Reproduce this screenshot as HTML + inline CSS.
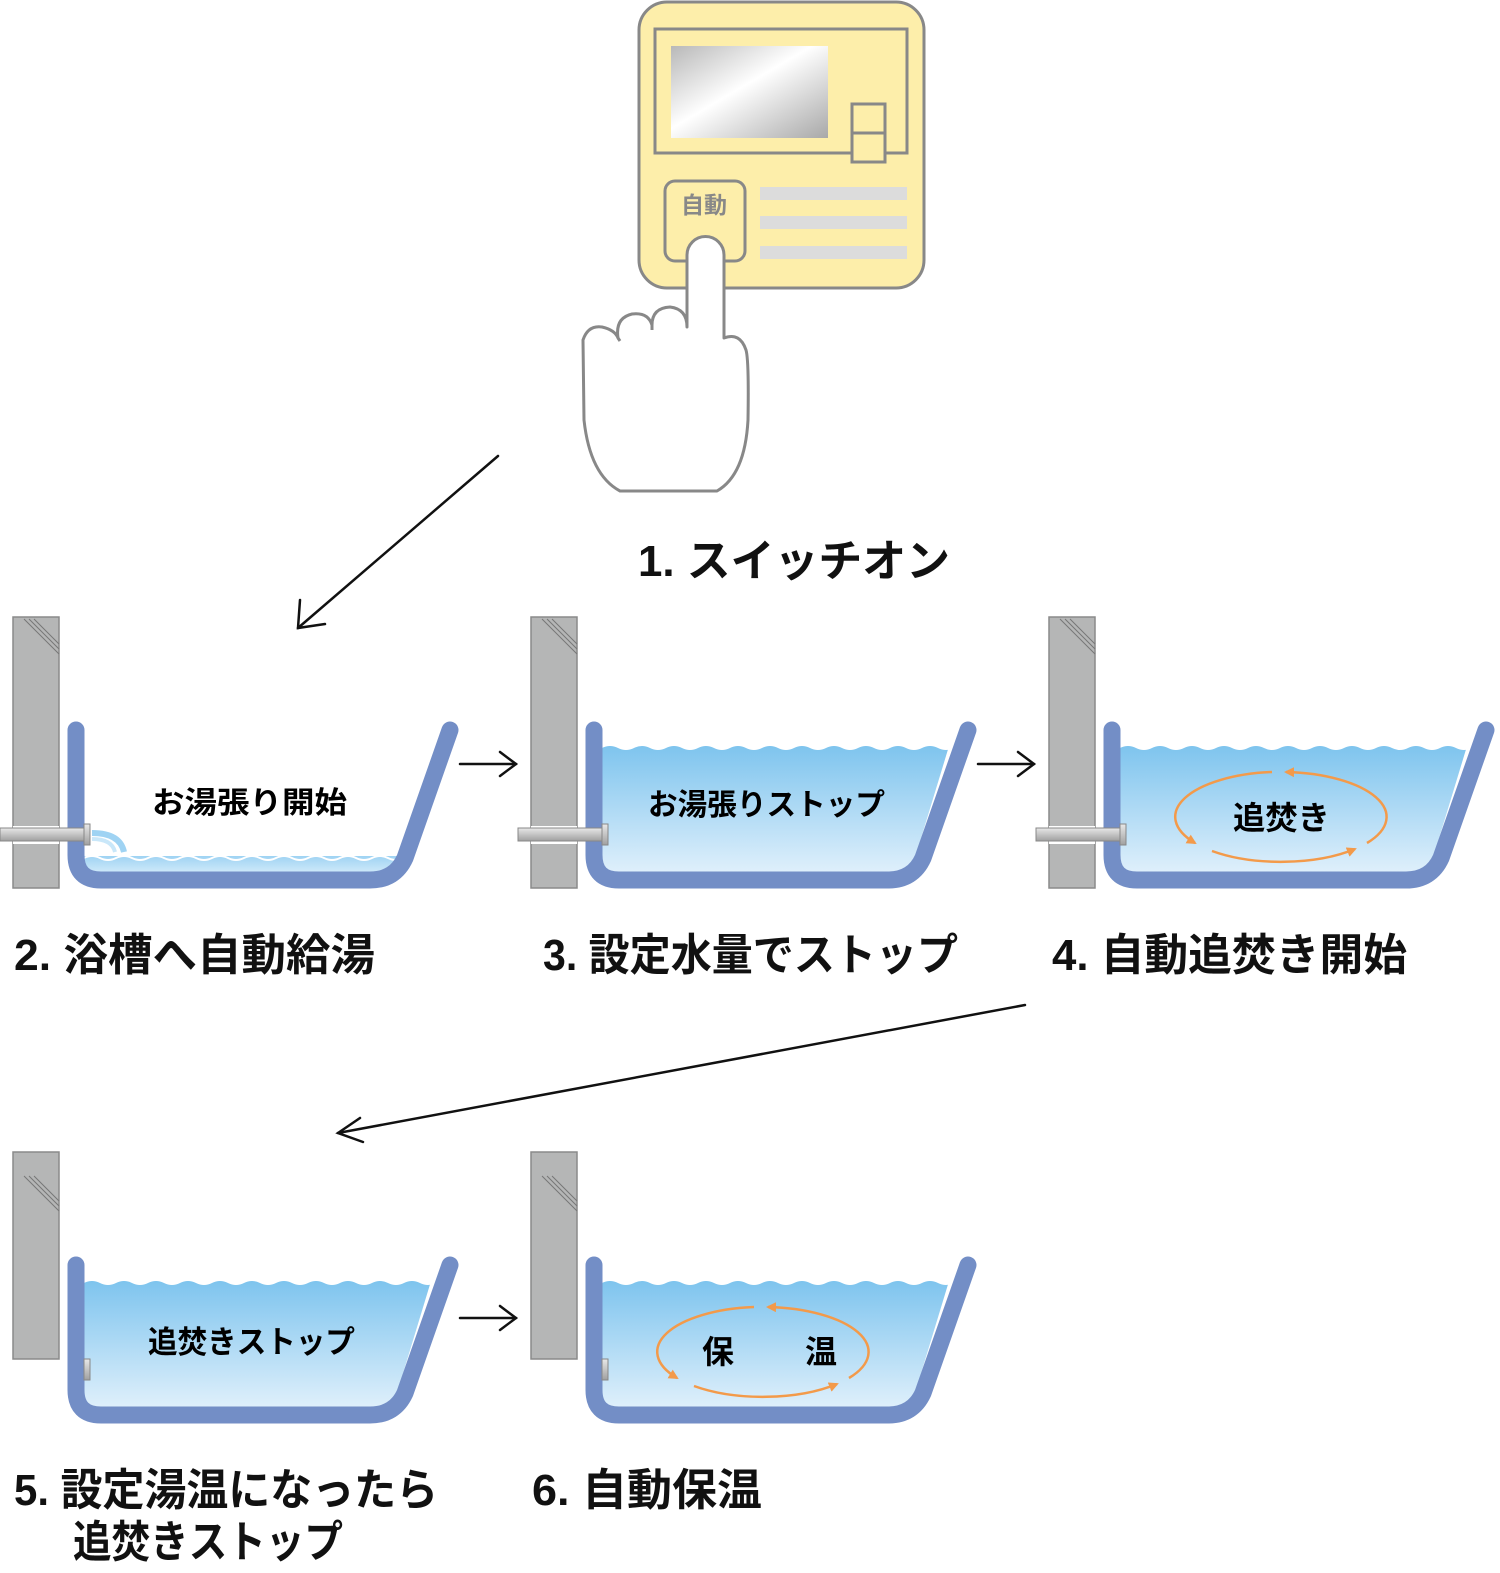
<!DOCTYPE html>
<html><head><meta charset="utf-8"><style>
html,body{margin:0;padding:0;background:#fff}
svg{display:block}
text{font-family:"Liberation Sans","Noto Sans CJK JP",sans-serif}
</style></head><body>
<svg width="1500" height="1573" viewBox="0 0 1500 1573" xmlns="http://www.w3.org/2000/svg">
<defs>
<linearGradient id="wg" x1="0" y1="0" x2="0" y2="1">
<stop offset="0" stop-color="#7ec4ee"/><stop offset="1" stop-color="#f4f9fe"/></linearGradient>
<linearGradient id="wg2" x1="0" y1="0" x2="0" y2="1">
<stop offset="0" stop-color="#9fd3f3"/><stop offset="1" stop-color="#d9eefb"/></linearGradient>
<linearGradient id="scr" x1="0" y1="0" x2="1" y2="1">
<stop offset="0" stop-color="#b8b8b8"/><stop offset="0.45" stop-color="#ffffff"/><stop offset="1" stop-color="#a8a8a8"/></linearGradient>
<linearGradient id="pipe" x1="0" y1="0" x2="0" y2="1">
<stop offset="0" stop-color="#e8e8e8"/><stop offset="1" stop-color="#a0a0a0"/></linearGradient>
<marker id="oa" viewBox="0 0 10 10" refX="8" refY="5" markerWidth="4" markerHeight="4" orient="auto" markerUnits="strokeWidth">
<path d="M0,0 L10,5 L0,10 z" fill="#f39a4a"/></marker>
<clipPath id="tubclip"><path d="M84,700 L445,700 L397,858 Q390,872 370,872 L100,872 Q84,872 84,856 Z"/></clipPath>
<g id="wall">
<rect x="13" y="617" width="46" height="271" fill="#b5b6b6" stroke="#8a8a8a" stroke-width="1.5"/>
<path d="M24,619 L59,654 M29,619 L59,649 M34,619 L59,644" stroke="#777" stroke-width="1" fill="none"/>
</g>
<g id="wall2">
<rect x="13" y="1152" width="46" height="207" fill="#b5b6b6" stroke="#8a8a8a" stroke-width="1.5"/>
<path d="M24,1176 L59,1211 M29,1176 L59,1206 M34,1176 L59,1201" stroke="#777" stroke-width="1" fill="none"/>
</g>
<g id="pipeg">
<rect x="13" y="826" width="46" height="18" fill="#fff"/>
<rect x="0" y="828" width="86" height="13" fill="url(#pipe)" stroke="#888" stroke-width="1"/>
<rect x="84" y="824" width="6" height="21" fill="url(#pipe)" stroke="#888" stroke-width="1"/>
</g>
<path id="wave" d="M84,748 q8,-4 16,0 t16,0 t16,0 t16,0 t16,0 t16,0 t16,0 t16,0 t16,0 t16,0 t16,0 t16,0 t16,0 t16,0 t16,0 t16,0 t16,0 t16,0 t16,0 t16,0 t16,0 t16,0 t16,0 L460,748 L460,900 L84,900 Z"/>
<path id="tub" d="M76,730 L76,855 Q76,880 101,880 L370,880 Q395,880 405,858 L450,730" fill="none" stroke="#738ec6" stroke-width="17" stroke-linecap="round" stroke-linejoin="round"/>
<g id="loop">
<path d="M1272,772 A106,45 0 0 0 1195,843" fill="none" stroke="#f39a4a" stroke-width="2.5" marker-end="url(#oa)"/>
<path d="M1212,851 A106,45 0 0 0 1355,849" fill="none" stroke="#f39a4a" stroke-width="2.5" marker-end="url(#oa)"/>
<path d="M1367,843 A106,45 0 0 0 1286,772" fill="none" stroke="#f39a4a" stroke-width="2.5" marker-end="url(#oa)"/>
</g>
</defs>

<!-- remote -->
<rect x="639" y="2" width="285" height="286" rx="28" fill="#fdeeaa" stroke="#888" stroke-width="3"/>
<rect x="655" y="29" width="252" height="124" fill="none" stroke="#888" stroke-width="3"/>
<rect x="671" y="46" width="157" height="92" fill="url(#scr)"/>
<rect x="852" y="104" width="33" height="58" fill="#fdeeaa" stroke="#888" stroke-width="3"/>
<line x1="852" y1="133" x2="885" y2="133" stroke="#888" stroke-width="3"/>
<rect x="760" y="187" width="147" height="13" fill="#dcdcdc"/>
<rect x="760" y="216" width="147" height="13" fill="#dcdcdc"/>
<rect x="760" y="246" width="147" height="13" fill="#dcdcdc"/>
<rect x="665" y="181" width="80" height="80" rx="10" fill="#fdeeaa" stroke="#888" stroke-width="3"/>
<text x="704" y="213" font-size="23" fill="#888" text-anchor="middle" font-weight="bold">自動</text>
<!-- hand -->
<path d="M687,327 L687,255 A18.5,18.5 0 0 1 724,255 L724,338 Q740,332 746,350 Q749,360 748,420 Q745,475 717,491 L620,491 Q590,475 584,420 L583,340 Q588,325 602,327 Q615,330 618,338 Q615,318 632,314 Q648,312 652,325 Q652,308 670,307 Q687,309 687,327 Z" fill="#fff" stroke="#888" stroke-width="3" stroke-linejoin="round"/>
<path d="M618,338 L620,341 M652,325 L652,330" stroke="#888" stroke-width="3"/>

<!-- main arrows -->
<g stroke="#111" stroke-width="2.5" fill="none" stroke-linecap="round">
<line x1="498" y1="456" x2="298" y2="628"/><path d="M300,600 L298,628 L325,624"/>
<line x1="1025" y1="1005" x2="338" y2="1133"/><path d="M360,1118 L338,1133 L363,1142"/>
<line x1="460" y1="764" x2="516" y2="764"/><path d="M500,752 L516,764 L500,776"/>
<line x1="978" y1="764" x2="1034" y2="764"/><path d="M1018,752 L1034,764 L1018,776"/>
<line x1="460" y1="1318" x2="516" y2="1318"/><path d="M500,1306 L516,1318 L500,1330"/>
</g>

<!-- tub 1 -->
<use href="#wall"/>
<g clip-path="url(#tubclip)"><rect x="84" y="856" width="380" height="20" fill="url(#wg2)"/>
<path d="M84,858 q8,-4 16,0 t16,0 t16,0 t16,0 t16,0 t16,0 t16,0 t16,0 t16,0 t16,0 t16,0 t16,0 t16,0 t16,0 t16,0 t16,0 t16,0 t16,0 t16,0 t16,0 t16,0 t16,0 L460,858" fill="none" stroke="#fff" stroke-width="2"/></g>
<path d="M92,833 Q120,833 124,852" fill="none" stroke="#9fd3f3" stroke-width="6"/>
<path d="M92,839 Q112,839 115,852" fill="none" stroke="#c9e7f9" stroke-width="4"/>
<use href="#tub"/>
<use href="#pipeg"/>
<text x="152" y="813" font-size="30" font-weight="bold" textLength="195" lengthAdjust="spacingAndGlyphs">お湯張り開始</text>

<!-- tub 2 -->
<g transform="translate(518,0)">
<use href="#wall"/>
<g clip-path="url(#tubclip)"><use href="#wave" fill="url(#wg)"/></g>
<use href="#tub"/><use href="#pipeg"/>
</g>
<text x="648" y="815" font-size="30" font-weight="bold" textLength="237" lengthAdjust="spacingAndGlyphs">お湯張りストップ</text>

<!-- tub 3 -->
<g transform="translate(1036,0)">
<use href="#wall"/>
<g clip-path="url(#tubclip)"><use href="#wave" fill="url(#wg)"/></g>
<use href="#tub"/><use href="#pipeg"/>
</g>
<use href="#loop"/>
<text x="1233" y="829" font-size="32" font-weight="bold" textLength="97" lengthAdjust="spacingAndGlyphs">追焚き</text>

<!-- tub 5 -->
<g transform="translate(0,535)">
<g clip-path="url(#tubclip)"><use href="#wave" fill="url(#wg)"/></g>
<use href="#tub"/>
<rect x="84" y="824" width="6" height="21" fill="url(#pipe)" stroke="#888" stroke-width="1"/>
</g>
<text x="148" y="1353" font-size="31" font-weight="bold" textLength="207" lengthAdjust="spacingAndGlyphs">追焚きストップ</text>
<use href="#wall2"/>

<!-- tub 6 -->
<g transform="translate(518,535)">
<g clip-path="url(#tubclip)"><use href="#wave" fill="url(#wg)"/></g>
<use href="#tub"/>
<rect x="84" y="824" width="6" height="21" fill="url(#pipe)" stroke="#888" stroke-width="1"/>
</g>
<use href="#wall2" transform="translate(518,0)"/>
<use href="#loop" transform="translate(-518,535)"/>
<text x="718" y="1363" font-size="32" text-anchor="middle" font-weight="bold">保</text>
<text x="821" y="1363" font-size="32" text-anchor="middle" font-weight="bold">温</text>

<!-- labels -->
<g font-size="44" font-weight="bold" fill="#111">
<text x="638" y="576" textLength="312" lengthAdjust="spacingAndGlyphs">1. スイッチオン</text>
<text x="14" y="970" textLength="361" lengthAdjust="spacingAndGlyphs">2. 浴槽へ自動給湯</text>
<text x="543" y="970" textLength="415" lengthAdjust="spacingAndGlyphs">3. 設定水量でストップ</text>
<text x="1052" y="970" textLength="355" lengthAdjust="spacingAndGlyphs">4. 自動追焚き開始</text>
<text x="14" y="1505" textLength="424" lengthAdjust="spacingAndGlyphs">5. 設定湯温になったら</text>
<text x="73" y="1557" textLength="270" lengthAdjust="spacingAndGlyphs">追焚きストップ</text>
<text x="532" y="1505" textLength="230" lengthAdjust="spacingAndGlyphs">6. 自動保温</text>
</g>
</svg>
</body></html>
